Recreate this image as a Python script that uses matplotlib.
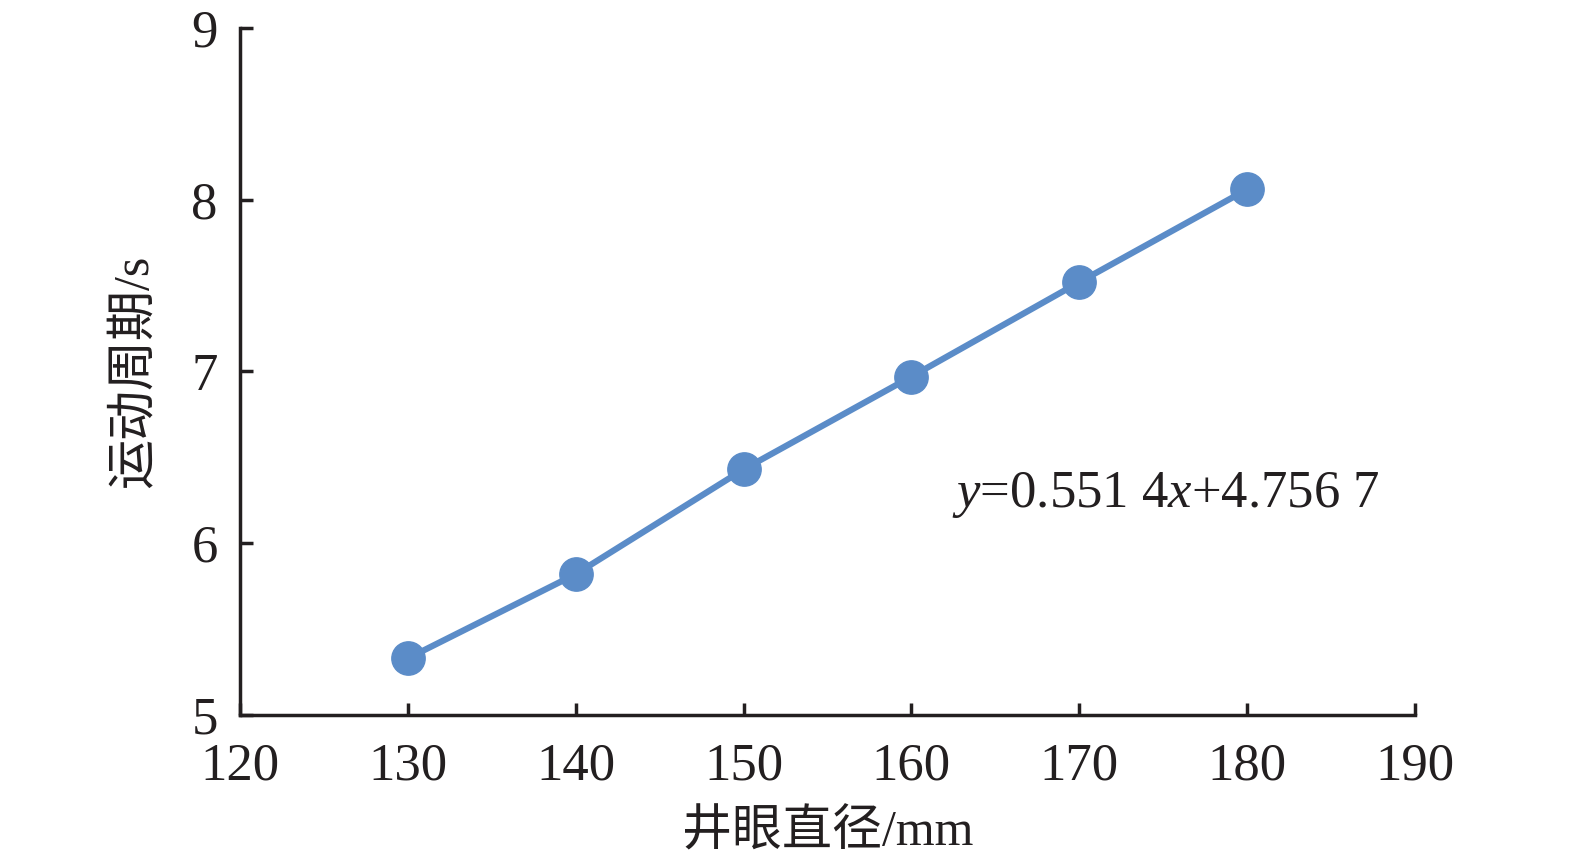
import numpy as np
import matplotlib
matplotlib.use("Agg")
import matplotlib.pyplot as plt

plt.rcParams['font.family'] = ['Liberation Serif', 'Noto Sans CJK SC']
plt.rcParams['mathtext.fontset'] = 'custom'
plt.rcParams['mathtext.rm'] = 'Liberation Serif'
plt.rcParams['mathtext.it'] = 'Liberation Serif:italic'

# data
diameter = [130, 140, 150, 160, 170, 180]
period = [5.33, 5.82, 6.43, 6.97, 7.52, 8.06]
x_ticks = [120, 130, 140, 150, 160, 170, 180, 190]
y_ticks = [5, 6, 7, 8, 9]
fit_text = r"$y$=0.551 4$x$+4.756 7"

fig = plt.figure(figsize=(15.75, 8.61), dpi=100)
ax = fig.add_axes([0.1524, 0.1696, 0.7460, 0.7979])

ax.plot(diameter, period, color='#5b8cc8', lw=4.5, marker='o', ms=24,
        solid_capstyle='round')

ax.set_xlim(120, 190)
ax.set_ylim(5, 9)
ax.set_xticks(x_ticks)
ax.set_yticks(y_ticks)
for s in ['top', 'right']:
    ax.spines[s].set_visible(False)
for s in ['left', 'bottom']:
    ax.spines[s].set_linewidth(2.5)
    ax.spines[s].set_color('#231f20')
ax.tick_params(direction='in', length=9, width=2.5, color='#231f20',
               labelsize=38, labelcolor='#231f20')
ax.tick_params(axis='x', pad=20)
ax.tick_params(axis='y', pad=16)

ax.set_xlabel("井眼直径/mm", fontsize=36, color='#231f20', labelpad=14)
ax.set_ylabel("运动周期/s", fontsize=36, color='#231f20', labelpad=24)

ax.text(0.97, 0.32, fit_text, transform=ax.transAxes, ha='right', va='center',
        fontsize=38, color='#231f20')

fig.savefig("out.png", dpi=100)
